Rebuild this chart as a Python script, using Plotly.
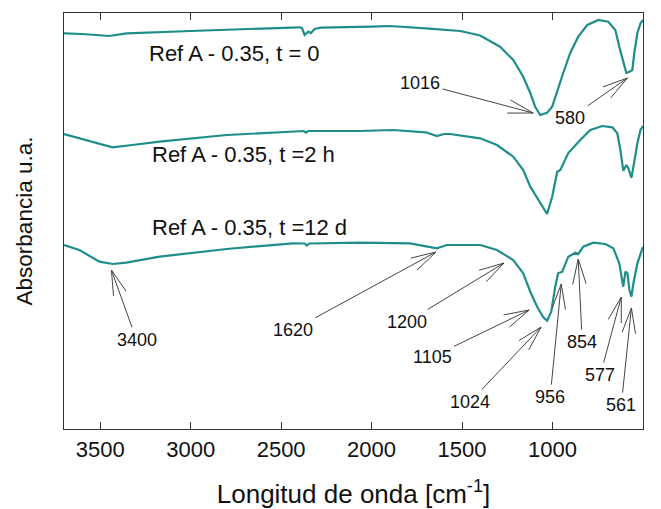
import math
import plotly.graph_objects as go

# ---- data (wavenumber in cm^-1, absorbance in arbitrary units, offset) ----
wn_t0 = [3700, 3600, 3450, 3355, 3000, 2620, 2400, 2385, 2370, 2350, 2335, 2315, 2280,
         2000, 1900, 1700, 1510, 1400, 1290, 1217, 1162, 1123, 1096, 1068, 1048, 1030,
         1002, 969, 941, 902, 858, 808, 747, 692, 653, 631, 609, 592, 575, 559, 548,
         531, 514, 500]
abs_t0 = [3.957, 3.95, 3.93, 3.957, 3.98, 4.00, 4.017, 4.01, 3.94, 3.975, 3.96, 4.00, 4.013,
          4.023, 4.03, 4.007, 3.98, 3.935, 3.823, 3.69, 3.523, 3.36, 3.223, 3.14, 3.155, 3.163,
          3.223, 3.41, 3.56, 3.76, 3.923, 4.04, 4.09, 4.073, 3.99, 3.823, 3.66, 3.56, 3.573,
          3.59, 3.76, 3.96, 4.057, 4.09]

wn_t2h = [3700, 3576, 3432, 3300, 3172, 2801, 2435, 2375, 2364, 2350, 2065, 1882, 1700,
          1650, 1639, 1600, 1567, 1400, 1307, 1217, 1162, 1123, 1085, 1051, 1030, 1002,
          974, 957, 913, 847, 791, 725, 669, 642, 625, 609, 592, 581, 564, 553, 531, 514, 500]
abs_t2h = [2.95, 2.89, 2.817, 2.845, 2.873, 2.94, 2.98, 2.98, 2.963, 2.98, 2.98, 2.99, 2.967,
           2.94, 2.93, 2.95, 2.95, 2.907, 2.84, 2.723, 2.59, 2.423, 2.31, 2.21, 2.15, 2.323,
           2.573, 2.59, 2.76, 2.89, 2.99, 3.03, 3.017, 2.957, 2.79, 2.583, 2.64, 2.607, 2.513,
           2.623, 2.857, 2.99, 3.03]

wn_t12d = [3700, 3615, 3504, 3432, 3355, 3172, 2801, 2435, 2370, 2358, 2345, 2065, 1788,
           1700, 1639, 1584, 1400, 1307, 1217, 1162, 1123, 1085, 1051, 1030, 1007, 985,
           969, 946, 913, 874, 858, 830, 775, 708, 664, 631, 609, 597, 586, 575, 564, 553,
           531, 503, 500]
abs_t12d = [1.84, 1.79, 1.673, 1.65, 1.663, 1.723, 1.80, 1.857, 1.855, 1.835, 1.855, 1.863,
            1.857, 1.823, 1.807, 1.84, 1.84, 1.79, 1.69, 1.557, 1.373, 1.223, 1.117, 1.083,
            1.173, 1.423, 1.557, 1.573, 1.723, 1.763, 1.75, 1.823, 1.863, 1.85, 1.807, 1.657,
            1.423, 1.573, 1.557, 1.39, 1.323, 1.457, 1.657, 1.807, 1.82]

series_labels = ["Ref A - 0.35, t = 0", "Ref A - 0.35, t =2 h", "Ref A - 0.35, t =12 d"]
series_label_pos = [(3244, 3.76), (3227, 2.75), (3227, 2.02)]

# peak annotations: text, arrow tip (wn, abs), label centre (wn, abs)
peak_texts = ["1016", "580", "3400", "1620", "1200", "1105", "1024", "956", "854", "577", "561"]
peak_tips = [(1107, 3.16), (586, 3.51), (3438, 1.59), (1644, 1.77), (1268, 1.66),
             (1129, 1.19), (1063, 1.02), (952, 1.45), (858, 1.70), (620, 1.32), (564, 1.21)]
peak_labels = [(1733, 3.46), (902, 3.11), (3299, 0.89), (2435, 0.99), (1804, 1.07),
               (1666, 0.72), (1456, 0.27), (1013, 0.32), (836, 0.87), (736, 0.54), (620, 0.24)]

x_ticks = [3500, 3000, 2500, 2000, 1500, 1000, 500]
X_RANGE = [3700, 500]
Y_RANGE = [0, 4.16]

# ---- layout constants ----
W, H = 661, 509
M = dict(l=64, r=18, t=13, b=80)
FONT = "Liberation Sans, Arial, sans-serif"
TEAL = "#1f8e8b"
ARROW = "#444"
BARB_LEN = 26      # px
BARB_ANGLE = 15    # degrees

plot_w = W - M["l"] - M["r"]
plot_h = H - M["t"] - M["b"]
ppx = plot_w / (X_RANGE[0] - X_RANGE[1])   # px per cm^-1 (axis reversed)
ppy = plot_h / (Y_RANGE[1] - Y_RANGE[0])   # px per a.u.

fig = go.Figure()
for wn, ab in [(wn_t0, abs_t0), (wn_t2h, abs_t2h), (wn_t12d, abs_t12d)]:
    fig.add_trace(go.Scatter(x=wn, y=ab, mode="lines",
                             line=dict(color=TEAL, width=2.2),
                             showlegend=False, hoverinfo="skip"))

annotations = []
shapes = []
for txt, (lx, ly) in zip(series_labels, series_label_pos):
    annotations.append(dict(x=lx, y=ly, xref="x", yref="y", text=txt, showarrow=False,
                            xanchor="left", yanchor="middle",
                            font=dict(family=FONT, size=22, color="#111")))
for txt, (tx, ty), (lx, ly) in zip(peak_texts, peak_tips, peak_labels):
    annotations.append(dict(x=tx, y=ty, xref="x", yref="y", ax=lx, ay=ly,
                            axref="x", ayref="y", text=txt, showarrow=True,
                            arrowhead=0, arrowwidth=1, arrowcolor=ARROW,
                            standoff=0, borderpad=2,
                            font=dict(family=FONT, size=18, color="#111")))
    # open "V" arrow head made of two barbs (screen-space direction)
    dxp = -(tx - lx) * ppx
    dyp = -(ty - ly) * ppy
    n = math.hypot(dxp, dyp)
    ux, uy = dxp / n, dyp / n
    for sgn in (1, -1):
        a = math.radians(BARB_ANGLE * sgn)
        bx = ux * math.cos(a) - uy * math.sin(a)
        by = ux * math.sin(a) + uy * math.cos(a)
        ex = tx + (BARB_LEN * bx) / ppx
        ey = ty + (BARB_LEN * by) / ppy
        shapes.append(dict(type="line", xref="x", yref="y", x0=tx, y0=ty, x1=ex, y1=ey,
                           line=dict(color=ARROW, width=1)))

fig.update_layout(
    width=W, height=H,
    margin=M,
    paper_bgcolor="white", plot_bgcolor="white",
    font=dict(family=FONT, color="#111"),
    annotations=annotations,
    shapes=shapes,
    showlegend=False,
)
fig.update_xaxes(range=X_RANGE, tickvals=x_ticks, ticktext=[str(v) for v in x_ticks],
                 ticks="inside", ticklen=7, tickwidth=1.2, tickcolor="#333",
                 showline=True, linecolor="#333", linewidth=1.3, mirror="ticks",
                 showgrid=False, zeroline=False, automargin=False,
                 tickfont=dict(family=FONT, size=22, color="#111"),
                 title=dict(text="Longitud de onda [cm<sup>-1</sup>]", standoff=25,
                            font=dict(family=FONT, size=26, color="#111")))
fig.update_yaxes(range=Y_RANGE, showticklabels=False, ticks="",
                 showline=True, linecolor="#333", linewidth=1.3, mirror=True,
                 showgrid=False, zeroline=False, automargin=False,
                 title=dict(text="Absorbancia u.a.", standoff=23,
                            font=dict(family=FONT, size=22.5, color="#111")))

fig.write_html("out.html")
